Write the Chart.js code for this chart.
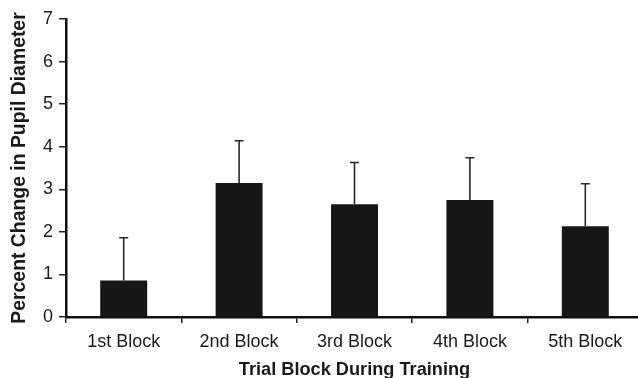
<!DOCTYPE html>
<html>
<head>
<meta charset="utf-8">
<script src="https://cdn.jsdelivr.net/npm/chart.js@4"></script>
<style>
  html, body { margin: 0; padding: 0; background: #fff; overflow: hidden; }
  #wrap { width: 638px; height: 378px; overflow: hidden; }
</style>
</head>
<body>
<div id="wrap"><canvas id="pupil-chart" width="643" height="378"></canvas></div>
<script>
// values
var blocks = ["1st Block", "2nd Block", "3rd Block", "4th Block", "5th Block"];
var pupilChange = [0.86, 3.15, 2.65, 2.75, 2.13];
var pupilError = [1.0, 0.99, 0.98, 0.99, 1.0];
var yTicks = [0, 1, 2, 3, 4, 5, 6, 7];

var FONT = "'Liberation Sans', Arial, Helvetica, sans-serif";

// draws the upper half of each error bar with a small cap
var errorBars = {
    id: 'errorBars',
    afterDatasetsDraw: function (chart) {
        var ctx = chart.ctx;
        var yScale = chart.scales.y;
        var meta = chart.getDatasetMeta(0);
        ctx.save();
        ctx.strokeStyle = '#2a2a2a';
        ctx.lineWidth = 1.6;
        meta.data.forEach(function (bar, i) {
            var yTop = yScale.getPixelForValue(pupilChange[i] + pupilError[i]);
            var yBase = yScale.getPixelForValue(pupilChange[i]);
            ctx.beginPath();
            ctx.moveTo(bar.x, yBase);
            ctx.lineTo(bar.x, yTop);
            ctx.moveTo(bar.x - 4.5, yTop);
            ctx.lineTo(bar.x + 4.5, yTop);
            ctx.stroke();
        });
        ctx.restore();
    }
};

var ctx = document.getElementById('pupil-chart').getContext('2d');
var chart = new Chart(ctx, {
    type: 'bar',
    data: {
        labels: blocks,
        datasets: [{
            data: pupilChange,
            backgroundColor: '#161616',
            borderWidth: 0,
            categoryPercentage: 1,
            barPercentage: 0.407
        }]
    },
    options: {
        responsive: false,
        animation: false,
        events: [],
        layout: { padding: { top: 19, right: 0, bottom: 0, left: 0 } },
        plugins: {
            legend: { display: false },
            tooltip: { enabled: false }
        },
        scales: {
            x: {
                offset: true,
                grid: {
                    offset: true,
                    drawOnChartArea: false,
                    drawTicks: true,
                    tickLength: 6,
                    color: '#222',
                    lineWidth: 1.5
                },
                border: { display: true, color: '#111', width: 2.5 },
                ticks: {
                    color: '#1a1a1a',
                    padding: 8,
                    maxRotation: 0,
                    font: { family: FONT, size: 18 }
                },
                title: {
                    display: true,
                    text: 'Trial Block During Training',
                    color: '#1a1a1a',
                    font: { family: FONT, size: 18.2, weight: 'bold', lineHeight: 1 },
                    padding: { top: 0, bottom: -1 }
                },
                afterFit: function (scale) { scale.height = 61; }
            },
            y: {
                min: 0,
                max: 7,
                afterBuildTicks: function (scale) {
                    scale.ticks = yTicks.map(function (v) { return { value: v }; });
                },
                grid: {
                    drawOnChartArea: false,
                    drawTicks: true,
                    tickLength: 7,
                    color: '#222',
                    lineWidth: 1.5
                },
                border: { display: true, color: '#111', width: 2.5 },
                ticks: {
                    color: '#1a1a1a',
                    padding: 6,
                    font: { family: FONT, size: 18 }
                },
                title: {
                    display: true,
                    text: 'Percent Change in Pupil Diameter',
                    color: '#1a1a1a',
                    font: { family: FONT, size: 19.4, weight: 'bold', lineHeight: 1 },
                    padding: { top: 9.9, bottom: 0 }
                },
                afterFit: function (scale) { scale.width = 66; }
            }
        }
    },
    plugins: [errorBars]
});
</script>
</body>
</html>
